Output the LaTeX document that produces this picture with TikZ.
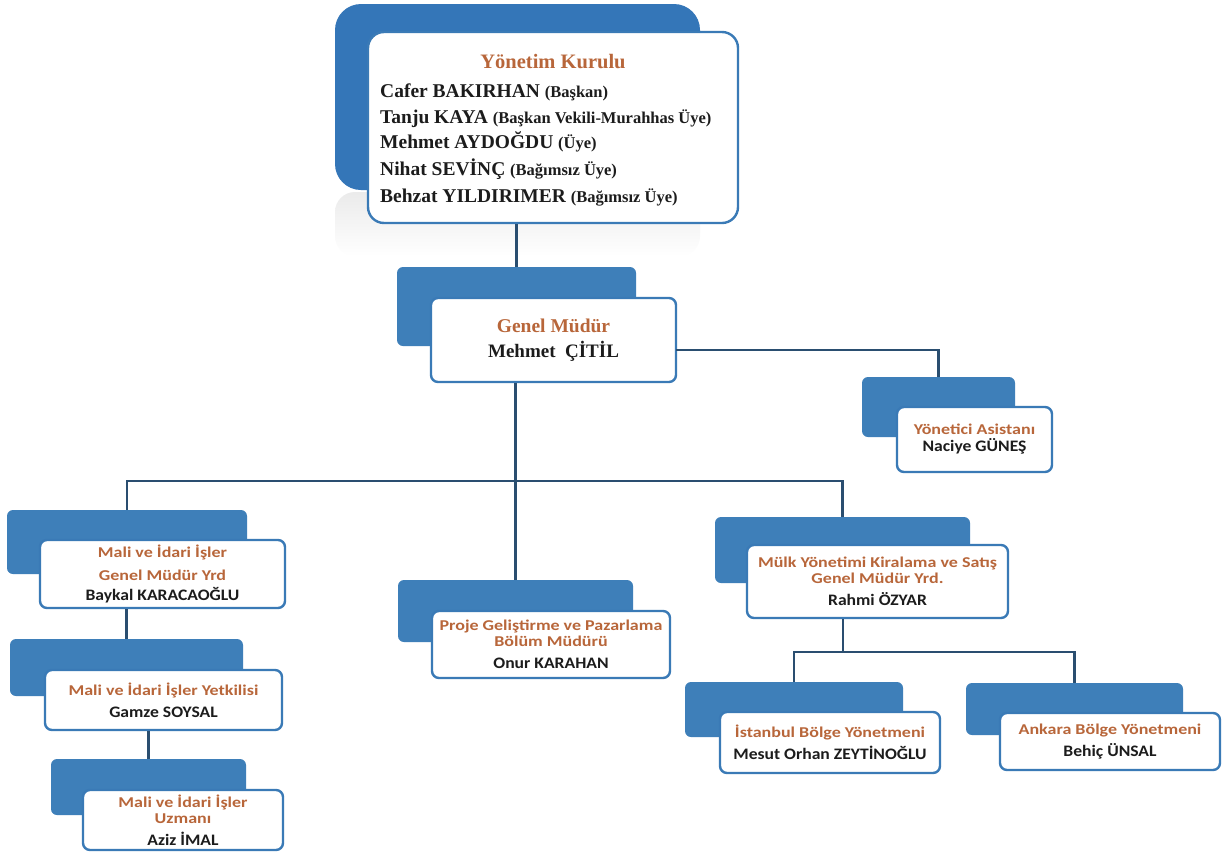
\documentclass[tikz,border=0pt]{standalone}
\usepackage{fontspec}
\setmainfont{Liberation Serif}
\newfontfamily\calf{Carlito}
\usetikzlibrary{fit,calc}
\definecolor{bxblue}{RGB}{62,127,185}
\definecolor{topblue}{RGB}{52,118,184}
\definecolor{bxline}{RGB}{58,122,182}
\definecolor{conncol}{RGB}{42,78,112}
\definecolor{brn}{RGB}{184,102,58}
\definecolor{nmcol}{RGB}{28,28,28}
\newcommand{\bl}[1]{\textcolor{brn}{\scalebox{1.2}[1]{#1}}}
\newcommand{\nl}[1]{\textcolor{nmcol}{\fontsize{16}{17}\selectfont\scalebox{1.1}[1]{#1}}}
\newcommand{\pr}[1]{{\fontsize{16.5}{26}\selectfont #1}}
\tikzset{
  blueback/.style={fill=bxblue, draw=none, rounded corners=6pt, inner sep=0pt},
  whitebox/.style={fill=white, draw=bxline, line width=2.4pt, rounded corners=7pt,
     inner sep=0pt, align=center, font=\calf\bfseries\fontsize{15}{17}\selectfont},
  conn/.style={draw=conncol, line width=2.6pt},
  ykline/.style={anchor=base west, inner sep=0pt, text=nmcol,
     font=\bfseries\fontsize{19.5}{26}\selectfont},
}
\begin{document}
\begin{tikzpicture}[x=1pt,y=-1pt]
\useasboundingbox (0,0) rectangle (1231,852);
\fill[white] (0,0) rectangle (1231,852);

% reflection under top box
\shade[top color=gray!16, bottom color=white, rounded corners=20pt] (335,192) rectangle (700,256);

% top box
\node[fill=topblue, rounded corners=26pt, inner sep=0pt, fit={(335,4) (700,190)}] (ykB) {};
\node[fill=white, draw=bxline, line width=2.4pt, rounded corners=16pt, inner sep=0pt,
      fit={(368,32) (738,223)}] (ykW) {};
\node[anchor=base, inner sep=0pt, text=brn, font=\bfseries\fontsize{20.5}{26}\selectfont]
      (ykT) at (553,68) {Yönetim Kurulu};
\node[ykline] (yk1) at (380,97)  {Cafer BAKIRHAN \pr{(Başkan)}};
\node[ykline] (yk2) at (380,123) {Tanju KAYA \pr{(Başkan Vekili-Murahhas Üye)}};
\node[ykline] (yk3) at (380,148) {Mehmet AYDOĞDU \pr{(Üye)}};
\node[ykline] (yk4) at (380,175) {Nihat SEVİNÇ \pr{(Bağımsız Üye)}};
\node[ykline] (yk5) at (380,202) {Behzat YILDIRIMER \pr{(Bağımsız Üye)}};

% blue back boxes
\node[blueback, fit={(397,267) (636,346)}] (gmB) {};
\node[blueback, fit={(862,377) (1015,437)}] (ynB) {};
\node[blueback, fit={(7,510) (247,574)}] (mgB) {};
\node[blueback, fit={(10,639) (243,696)}] (ytB) {};
\node[blueback, fit={(51,759) (246,815)}] (uzB) {};
\node[blueback, fit={(398,580) (633,642)}] (pjB) {};
\node[blueback, fit={(715,517) (970,583)}] (mkB) {};
\node[blueback, fit={(685,682) (903,737)}] (isB) {};
\node[blueback, fit={(966,683) (1183,735)}] (anB) {};

% coordinates for connector bends
\coordinate (bus) at (516,481);
\coordinate (gmR) at (676,350);
\coordinate (bus2) at (843,652);

% white front boxes
\node[whitebox, minimum width=245pt, minimum height=84pt,
      font=\bfseries\fontsize{19.5}{25}\selectfont] (gmW) at (553.5,340)
  {\textcolor{brn}{Genel Müdür}\\
   \textcolor{nmcol}{\fontsize{19}{25}\selectfont Mehmet\ \ ÇİTİL}};
\node[whitebox, minimum width=155pt, minimum height=65pt] (ynW) at (974.5,439.5)
  {\bl{Yönetici Asistanı}\\\nl{Naciye GÜNEŞ}};
\node[whitebox, minimum width=245pt, minimum height=68pt] (mgW) at (162.5,574)
  {\bl{Mali ve İdari İşler}\\[6pt]\bl{Genel Müdür Yrd}\\[3pt]\nl{Baykal KARACAOĞLU}};
\node[whitebox, minimum width=237pt, minimum height=60pt] (ytW) at (163.5,700)
  {\bl{Mali ve İdari İşler Yetkilisi}\\[5pt]\nl{Gamze SOYSAL}};
\node[whitebox, minimum width=200pt, minimum height=60pt] (uzW) at (183,820)
  {\bl{Mali ve İdari İşler}\\[-1pt]\bl{Uzmanı}\\[5pt]\nl{Aziz İMAL}};
\node[whitebox, minimum width=238pt, minimum height=67pt] (pjW) at (551,644.5)
  {\bl{Proje Geliştirme ve Pazarlama}\\[-1pt]\bl{Bölüm Müdürü}\\[5pt]\nl{Onur KARAHAN}};
\node[whitebox, minimum width=261pt, minimum height=73pt] (mkW) at (877.5,581.5)
  {\bl{Mülk Yönetimi Kiralama ve Satış}\\[-1pt]\bl{Genel Müdür Yrd.}\\[5pt]\nl{Rahmi ÖZYAR}};
\node[whitebox, minimum width=220pt, minimum height=61pt] (isW) at (830,742.5)
  {\bl{İstanbul Bölge Yönetmeni}\\[5pt]\nl{Mesut Orhan ZEYTİNOĞLU}};
\node[whitebox, minimum width=220pt, minimum height=57pt] (anW) at (1110,741.5)
  {\bl{Ankara Bölge Yönetmeni}\\[5pt]\nl{Behiç ÜNSAL}};

% connectors
\draw[conn] (gmB.north) -- (gmB.north |- ykW.south);
\draw[conn] (pjB.north) -- (pjB.north |- gmW.south);
\draw[conn] (mgB.north) |- (bus) -| (mkB.north);
\draw[conn] (gmR) -| (ynB.north);
\draw[conn] (ytB.north) -- (ytB.north |- mgW.south);
\draw[conn] (uzB.north) -- (uzB.north |- ytW.south);
\draw[conn] (bus2) -- (bus2 |- mkW.south);
\draw[conn] (isB.north) |- (bus2) -| (anB.north);
\end{tikzpicture}
\end{document}
